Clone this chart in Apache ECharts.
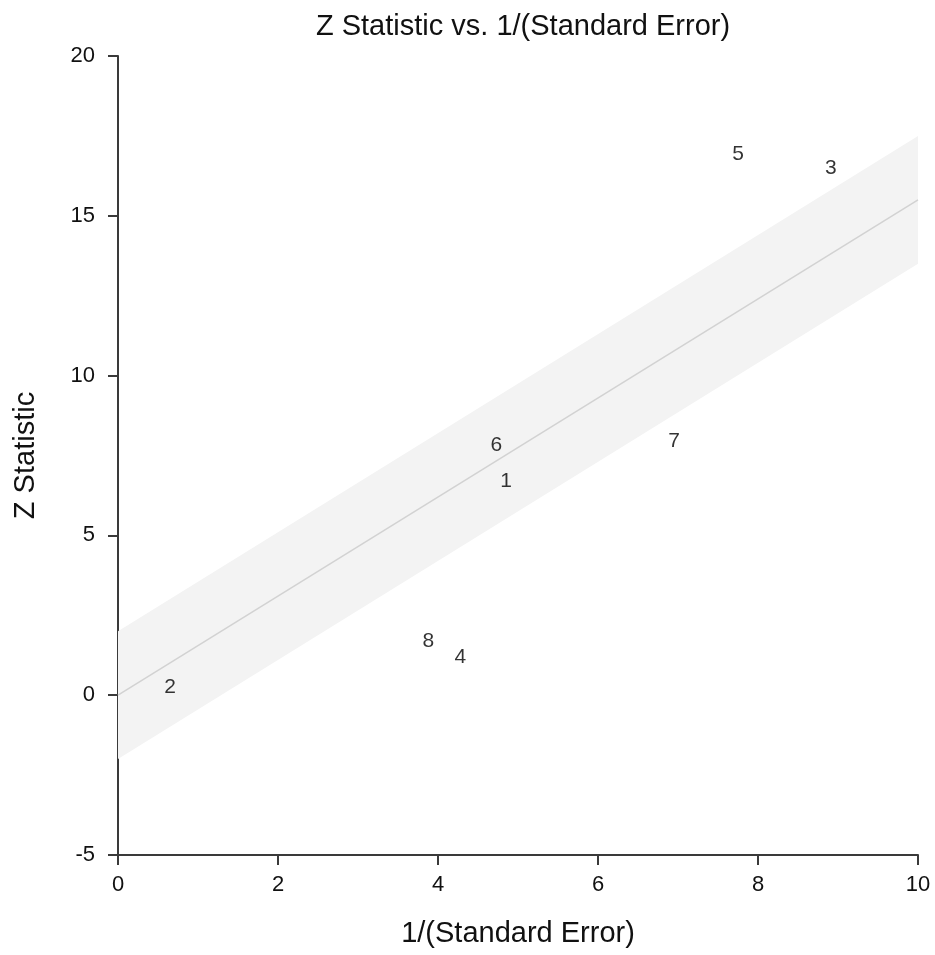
<!DOCTYPE html>
<html>
<head>
<meta charset="utf-8">
<script src="https://cdn.jsdelivr.net/npm/echarts@6/dist/echarts.min.js"></script>
<style>
  html, body { margin: 0; padding: 0; background: #fff; }
  #chart { width: 935px; height: 955px; }
</style>
</head>
<body>
<div id="chart"></div>
<script>
// study labels and their (1/SE, Z) positions
const studyIds = ['1', '2', '3', '4', '5', '6', '7', '8'];
const precision = [4.85, 0.65, 8.91, 4.28, 7.75, 4.73, 6.95, 3.88];
const zStat = [6.69, 0.25, 16.5, 1.19, 16.94, 7.81, 7.94, 1.69];

// regression line through origin and its +/-2 band
const fitX = [0, 10];
const fitY = [0, 15.5];
const bandLower = [-2, 13.5];
const bandUpper = [2, 17.5];

const xTicks = { min: 0, max: 10, interval: 2 };
const yTicks = { min: -5, max: 20, interval: 5 };

const font = 'Liberation Sans, Arial, sans-serif';
const ink = '#111';

const chart = echarts.init(document.getElementById('chart'));

const axisCommon = {
  type: 'value',
  nameLocation: 'middle',
  nameTextStyle: { fontFamily: font, fontSize: 29, color: ink },
  splitLine: { show: false },
  axisLine: { show: true, onZero: false, lineStyle: { color: '#3a3a3a', width: 2 } },
  axisTick: { show: true, length: 10, lineStyle: { color: '#3a3a3a', width: 2 } },
  axisLabel: { fontFamily: font, fontSize: 22, color: ink },
};

chart.setOption({
  animation: false,
  title: {
    text: 'Z Statistic vs. 1/(Standard Error)',
    left: 518,
    top: 7,
    textAlign: 'center',
    textStyle: { fontFamily: font, fontSize: 29, fontWeight: 'normal', color: ink },
  },
  grid: { left: 118, right: 17, top: 56, bottom: 100 },
  xAxis: {
    ...axisCommon,
    ...xTicks,
    name: '1/(Standard Error)',
    nameGap: 64,
    axisLabel: { ...axisCommon.axisLabel, margin: 19 },
  },
  yAxis: {
    ...axisCommon,
    ...yTicks,
    name: 'Z Statistic',
    nameGap: 78,
    axisLabel: { ...axisCommon.axisLabel, margin: 23 },
  },
  series: [
    {
      type: 'custom',
      silent: true,
      z: 1,
      data: fitX.map((x, i) => [x, bandLower[i], bandUpper[i]]),
      renderItem: (params, api) => {
        if (params.dataIndex !== 0) return;
        const lower = fitX.map((x, i) => api.coord([x, bandLower[i]]));
        const upper = fitX.map((x, i) => api.coord([x, bandUpper[i]])).reverse();
        return {
          type: 'polygon',
          shape: { points: lower.concat(upper) },
          style: { fill: '#f3f3f3' },
        };
      },
    },
    {
      type: 'line',
      silent: true,
      z: 2,
      symbol: 'none',
      data: fitX.map((x, i) => [x, fitY[i]]),
      lineStyle: { color: '#d2d2d2', width: 1.5 },
    },
    {
      type: 'scatter',
      z: 3,
      symbolSize: 0,
      data: studyIds.map((id, i) => ({ name: id, value: [precision[i], zStat[i]] })),
      label: {
        show: true,
        position: 'inside',
        formatter: (p) => p.name,
        fontFamily: font,
        fontSize: 21,
        color: '#000',
      },
    },
  ],
});
</script>
</body>
</html>
